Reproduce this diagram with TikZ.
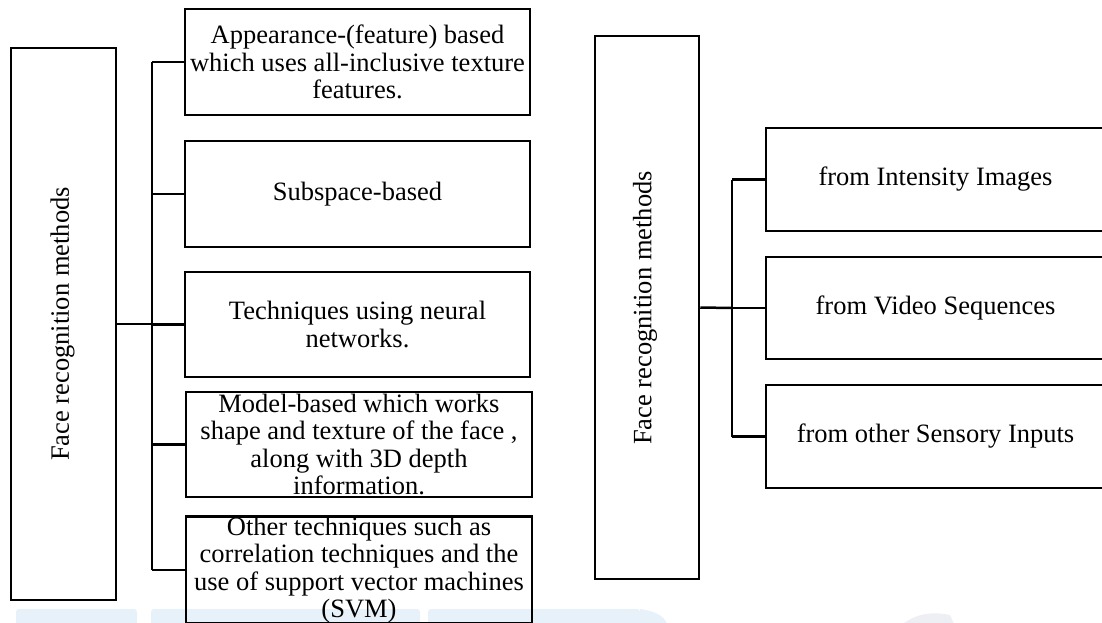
\documentclass[tikz,border=0pt]{standalone}
\usepackage{fontspec}
\setmainfont{Liberation Serif}
\definecolor{wmblue}{RGB}{230,241,249}
\definecolor{wmgrey}{RGB}{238,238,245}
\tikzset{
  box/.style={draw, line width=2.5pt, inner sep=0pt, align=center,
    font=\fontsize{26.5}{27.5}\selectfont},
  txt/.style={inner sep=0pt, font=\fontsize{26.5}{27.5}\selectfont},
  conn/.style={draw, line width=2.5pt},
  band/.style={fill=wmblue, draw=none, rounded corners=3pt}
}
\begin{document}
\begin{tikzpicture}[x=1pt, y=-1pt]
\useasboundingbox (0,0) rectangle (1102,623);
\clip (0,0) rectangle (1102,623);
% faint watermark bands
\fill[band] (16,609) rectangle (137,626);
\fill[band] (151,609) rectangle (420,626);
\fill[band] (428,609) rectangle (640,626);
\fill[wmblue] (640,609) .. controls (660,612) and (665,618) .. (668,626) -- (640,626) -- cycle;
\fill[wmgrey] (900,626) .. controls (915,614) and (930,611) .. (950,615) -- (955,626) -- cycle;

% ---------- left diagram ----------
\node[box, minimum width=105pt, minimum height=552pt] (L0) at (63.3,324) {};
\node[txt, rotate=90] (L0t) at (62.5,324) {Face recognition methods};

\node[box, minimum width=345pt, minimum height=106pt] (L1) at (357.5,62)
  {Appearance-(feature) based\\which uses all-inclusive texture\\features.};
\node[box, minimum width=345pt, minimum height=106pt] (L2) at (357.5,194)
  {Subspace-based};
\node[box, minimum width=345pt, minimum height=105pt] (L3) at (357.5,324.5)
  {Techniques using neural\\networks.};
\node[box, minimum width=346pt, minimum height=105pt] (L4) at (359,444.5)
  {Model-based which works\\shape and texture of the face ,\\along with 3D depth\\information.};
\node[box, minimum width=346pt, minimum height=104pt] (L5) at (359,570)
  {Other techniques such as\\correlation techniques and the\\use of support vector machines\\(SVM)};

\coordinate (LT) at (152,324);
\draw[conn] (L0.east) -- (LT);
\draw[conn] (L1.west -| LT) -- (L5.west -| LT);
\foreach \n in {L1,L2,L3,L4,L5}
  \draw[conn] (\n.west) -- (\n.west -| LT);

% ---------- right diagram ----------
\node[box, minimum width=104pt, minimum height=543pt] (R0) at (647,307.5) {};
\node[txt, rotate=90] (R0t) at (645,308) {Face recognition methods};

\node[box, minimum width=339pt, minimum height=103pt] (R1) at (935.5,179.5)
  {from Intensity Images};
\node[box, minimum width=339pt, minimum height=102pt] (R2) at (935.5,308)
  {from Video Sequences};
\node[box, minimum width=339pt, minimum height=103pt] (R3) at (935.5,436.5)
  {from other Sensory Inputs};

\coordinate (RT) at (732,308);
\draw[conn] (R0.east) -- (RT);
\draw[conn] (R1.west -| RT) -- (R3.west -| RT);
\foreach \n in {R1,R2,R3}
  \draw[conn] (\n.west) -- (\n.west -| RT);
\end{tikzpicture}
\end{document}
